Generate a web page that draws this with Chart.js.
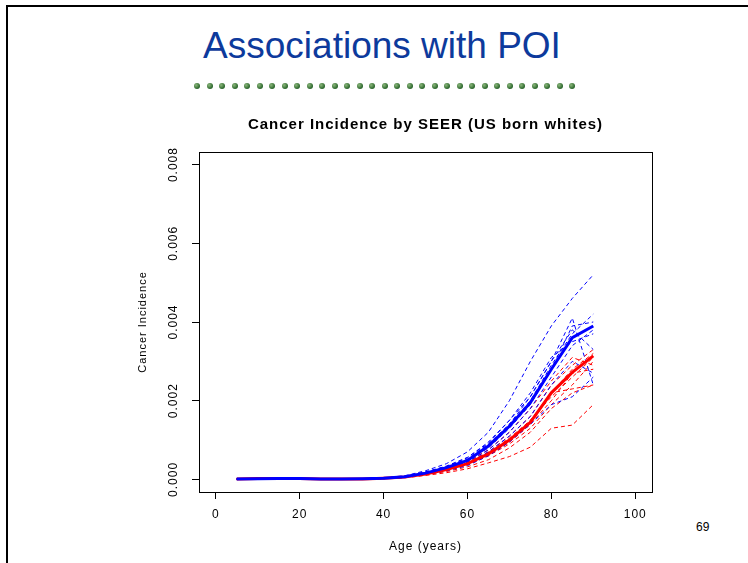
<!DOCTYPE html>
<html>
<head>
<meta charset="utf-8">
<script src="https://cdn.jsdelivr.net/npm/chart.js@4"></script>
<style>
  body { margin: 0; background: #fff; }
  #slide { position: relative; width: 748px; height: 563px; overflow: hidden; font-family: "Liberation Sans", Arial, sans-serif; }
  #frame { position: absolute; left: 6px; top: 5px; width: 760px; height: 600px; border-top: 2px solid #000; border-left: 2px solid #000; }
  #heading { position: absolute; left: 0; width: 764px; top: 25px; text-align: center; font-size: 37px; color: #0d3a9c; line-height: 42px; }
  #dots { position: absolute; left: 0; top: 0; }
  .dot { position: absolute; width: 6px; height: 6px; border-radius: 50%; background: radial-gradient(circle at 35% 35%, #8cb87c, #2f6a2f 65%, #245524); }
  #pageno { position: absolute; left: 696px; top: 520px; font-size: 12px; color: #000; }
  canvas { position: absolute; left: 0; top: 0; }
</style>
</head>
<body>
<div id="slide">
  <div id="frame"></div>
  <div id="heading">Associations with POI</div>
  <div id="dots"></div>
  <div id="pageno">69</div>
  <canvas id="myChart" width="748" height="563"></canvas>
</div>
<script>
// age groups (years)
var ages = [5, 10, 15, 20, 25, 30, 35, 40, 45, 50, 55, 60, 65, 70, 75, 80, 85, 90];

// averages (thick lines)
var blueMean = [0.00001, 0.000015, 0.00002, 0.00002, 0.000012, 0.00001, 0.000015, 0.00003, 0.00007,
    0.00016, 0.0003, 0.00048, 0.00085, 0.00135, 0.00195, 0.0028, 0.0036, 0.0039];
var redMean = [0.00001, 0.00002, 0.00002, 0.00002, 0.00001, 0.00001, 0.00001, 0.00003, 0.00006,
    0.00014, 0.00025, 0.0004, 0.00065, 0.001, 0.00145, 0.0022, 0.00272, 0.00314];

// individual registries (dashed lines)
var blueLines = [
    [0.00001, 0.00002, 0.00002, 0.00001, 0.00001, 0.00001, 0.00002, 0.00004, 0.00009, 0.00022, 0.0004, 0.0007, 0.0012, 0.002, 0.003, 0.0039, 0.0046, 0.0052],
    [0.00001, 0.00002, 0.00002, 0.00001, 0.00001, 0.00001, 0.00002, 0.00003, 0.00007, 0.00018, 0.00032, 0.00052, 0.0009, 0.0014, 0.0021, 0.003, 0.0041, 0.0024],
    [0.00001, 0.00001, 0.00002, 0.00002, 0.00001, 0.00001, 0.00001, 0.00003, 0.00007, 0.00017, 0.0003, 0.0005, 0.00088, 0.0014, 0.002, 0.0029, 0.0037, 0.0042],
    [0.00001, 0.00002, 0.00002, 0.00002, 0.00001, 0.00001, 0.00001, 0.00003, 0.00006, 0.00016, 0.00029, 0.00047, 0.0008, 0.0013, 0.0019, 0.0028, 0.0039, 0.004],
    [0.00001, 0.00002, 0.00002, 0.00001, 0.00001, 0.00001, 0.00002, 0.00003, 0.00008, 0.00018, 0.00033, 0.00055, 0.00095, 0.0015, 0.0022, 0.0031, 0.0035, 0.0037],
    [0.00001, 0.00001, 0.00002, 0.00002, 0.00001, 0.00001, 0.00001, 0.00003, 0.00006, 0.00015, 0.00027, 0.00044, 0.00075, 0.0012, 0.0018, 0.0026, 0.0034, 0.0038],
    [0.00001, 0.00002, 0.00002, 0.00001, 0.00001, 0.00001, 0.00001, 0.00003, 0.00006, 0.00014, 0.00025, 0.0004, 0.0007, 0.0011, 0.0016, 0.0024, 0.003, 0.0027],
    [0.00001, 0.00001, 0.00002, 0.00001, 0.00001, 0.00001, 0.00001, 0.00002, 0.00005, 0.00013, 0.00022, 0.00035, 0.0006, 0.00095, 0.0014, 0.0019, 0.0021, 0.0026],
    [0.00001, 0.00002, 0.00002, 0.00002, 0.00001, 0.00001, 0.00002, 0.00004, 0.00008, 0.00019, 0.00034, 0.00056, 0.00092, 0.0015, 0.0021, 0.003, 0.0038, 0.0033]
];
var redLines = [
    [0.00001, 0.00002, 0.00002, 0.00001, 0.00001, 0.00001, 0.00001, 0.00003, 0.00007, 0.00016, 0.00028, 0.00045, 0.0007, 0.0011, 0.0016, 0.0024, 0.0029, 0.0033],
    [0.00001, 0.00002, 0.00002, 0.00002, 0.00001, 0.00001, 0.00001, 0.00003, 0.00006, 0.00015, 0.00027, 0.00042, 0.00068, 0.00105, 0.0015, 0.0022, 0.0028, 0.0032],
    [0.00001, 0.00001, 0.00002, 0.00002, 0.00001, 0.00001, 0.00001, 0.00003, 0.00006, 0.00014, 0.00025, 0.0004, 0.00065, 0.001, 0.0015, 0.0021, 0.0026, 0.0031],
    [0.00001, 0.00002, 0.00003, 0.00002, 0.00001, 0.00001, 0.00002, 0.00003, 0.00007, 0.00017, 0.0003, 0.00047, 0.00075, 0.0012, 0.0018, 0.0025, 0.0031, 0.0029],
    [0.00001, 0.00001, 0.00002, 0.00001, 0.00001, 0.00001, 0.00001, 0.00002, 0.00005, 0.00013, 0.00023, 0.00037, 0.0006, 0.0009, 0.0013, 0.0019, 0.0024, 0.003],
    [0.00001, 0.00002, 0.00002, 0.00001, 0.00001, 0.00001, 0.00001, 0.00003, 0.00006, 0.00014, 0.00024, 0.00038, 0.0006, 0.00095, 0.0014, 0.0022, 0.0023, 0.0024],
    [0.00001, 0.00001, 0.00002, 0.00001, 0.00001, 0.00001, 0.00001, 0.00002, 0.00005, 0.00012, 0.0002, 0.00032, 0.0005, 0.0008, 0.0012, 0.0018, 0.0022, 0.0024],
    [0.00001, 0.00001, 0.00001, 0.00001, 0.00001, 0.00001, 0.00001, 0.00002, 0.00004, 0.0001, 0.00017, 0.00027, 0.00042, 0.00058, 0.00082, 0.0013, 0.00138, 0.0019],
    [0.00001, 0.00002, 0.00002, 0.00002, 0.00001, 0.00001, 0.00001, 0.00003, 0.00006, 0.00015, 0.00026, 0.0004, 0.00062, 0.00095, 0.0014, 0.002, 0.0027, 0.0028]
];

var xTicks = [0, 20, 40, 60, 80, 100];
var yTicks = [0, 0.002, 0.004, 0.006, 0.008];

// green dotted rule under the heading
var dotBox = document.getElementById('dots');
for (var d = 0; d < 31; d++) {
    var s = document.createElement('span');
    s.className = 'dot';
    s.style.left = (194 + d * 12.5) + 'px';
    s.style.top = '83px';
    dotBox.appendChild(s);
}

function pts(vals) {
    return ages.map(function (a, i) { return { x: a, y: vals[i] }; });
}

var datasets = [
    { data: pts(blueMean), borderColor: '#0000ff', borderWidth: 3 },
    { data: pts(redMean), borderColor: '#ff0000', borderWidth: 3 }
];
for (var i = 0; i < blueLines.length; i++) {
    datasets.push({ data: pts(blueLines[i]), borderColor: '#0000ff', borderWidth: 1, borderDash: [4, 3] });
}
for (var j = 0; j < redLines.length; j++) {
    datasets.push({ data: pts(redLines[j]), borderColor: '#ff0000', borderWidth: 1, borderDash: [4, 3] });
}

var spacing = {
    id: 'spacing',
    beforeLayout: function (chart) { chart.ctx.letterSpacing = '1px'; },
    beforeDraw: function (chart) { chart.ctx.letterSpacing = '1px'; }
};
var plotBox = {
    id: 'plotBox',
    afterDraw: function (chart) {
        var a = chart.chartArea, c = chart.ctx;
        c.save();
        c.strokeStyle = '#000';
        c.lineWidth = 1;
        c.strokeRect(Math.round(a.left) + 0.5, Math.round(a.top) + 0.5, Math.round(a.right - a.left), Math.round(a.bottom - a.top));
        c.restore();
    }
};

Chart.defaults.font.family = '"Liberation Sans", Arial, sans-serif';
Chart.defaults.color = '#000';

var ctx = document.getElementById('myChart').getContext('2d');
var chart = new Chart(ctx, {
    type: 'line',
    data: { datasets: datasets },
    plugins: [spacing, plotBox],
    options: {
        responsive: false,
        animation: false,
        layout: { padding: { left: 0, right: 96, top: 0, bottom: 0 } },
        elements: { point: { radius: 0 }, line: { tension: 0 } },
        plugins: {
            legend: { display: false },
            tooltip: { enabled: false },
            title: {
                display: true,
                fullSize: false,
                text: 'Cancer Incidence by SEER (US born whites)',
                font: { size: 15, weight: 'bold' },
                color: '#000',
                padding: { top: 116, bottom: 18 }
            }
        },
        scales: {
            x: {
                type: 'linear',
                min: -4,
                max: 104,
                afterFit: function (s) { s.height = 71; },
                afterBuildTicks: function (s) { s.ticks = xTicks.map(function (v) { return { value: v }; }); },
                grid: { drawOnChartArea: false, tickLength: 7, color: '#000' },
                border: { display: true, color: '#000' },
                ticks: { font: { size: 12 }, padding: 8, maxRotation: 0, color: '#000' },
                title: { display: true, text: 'Age (years)', font: { size: 12 }, padding: { top: 0, bottom: 9 } }
            },
            y: {
                type: 'linear',
                min: -0.00032,
                max: 0.00832,
                afterFit: function (s) { s.width = 199; },
                afterBuildTicks: function (s) { s.ticks = yTicks.map(function (v) { return { value: v }; }); },
                grid: { drawOnChartArea: false, tickLength: 7, color: '#000' },
                border: { display: true, color: '#000' },
                ticks: {
                    font: { size: 12 },
                    minRotation: 90,
                    maxRotation: 90,
                    crossAlign: 'center',
                    padding: 1,
                    color: '#000',
                    callback: function (v) { return v.toFixed(3); }
                },
                title: { display: true, text: 'Cancer Incidence', font: { size: 11 }, padding: { top: 136, bottom: 0 } }
            }
        }
    }
});
</script>
</body>
</html>
